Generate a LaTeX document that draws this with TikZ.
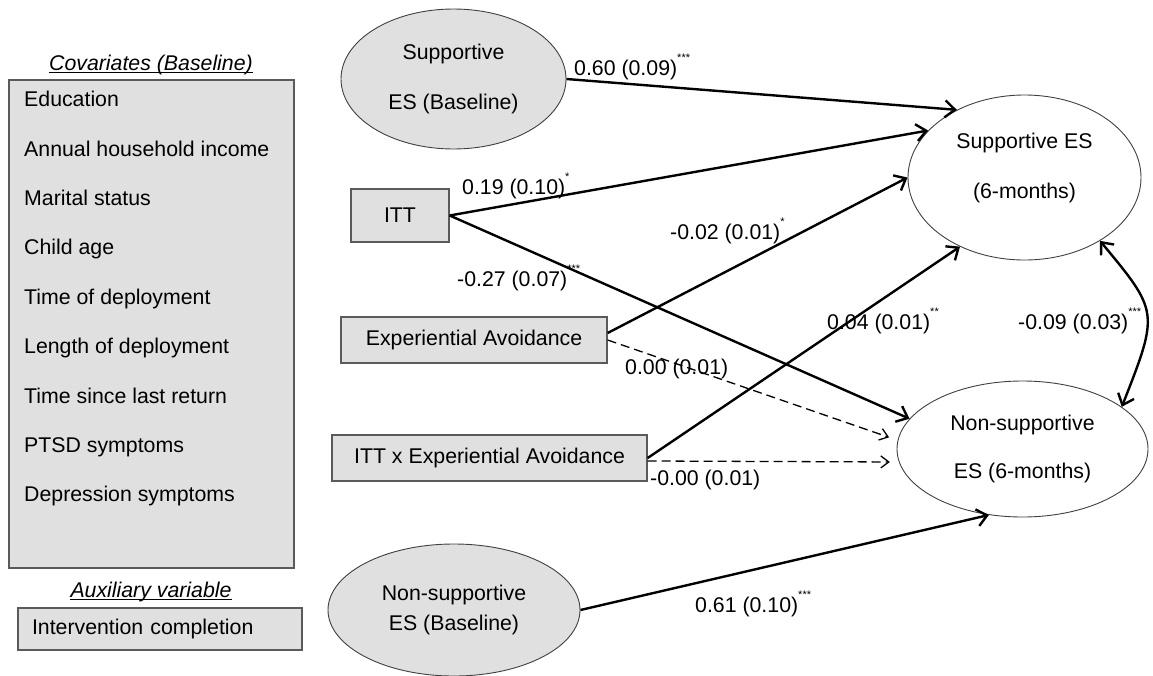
\documentclass[tikz,border=0pt]{standalone}
\usepackage{fontspec}
\setmainfont{Liberation Sans}
\usetikzlibrary{arrows.meta,shapes.geometric}
\newcommand\fs{\fontsize{21.3}{25.5}\selectfont}
\newcommand\sig[1]{\raisebox{14pt}{\fontsize{11}{11}\selectfont #1}}
\definecolor{boxfill}{HTML}{E0E0E0}
\definecolor{boxline}{HTML}{5A5A5A}
\definecolor{elline}{HTML}{404040}
\begin{document}
\begin{tikzpicture}[x=1pt,y=-1pt,font=\fs,
  gbox/.style={draw=boxline,line width=1.3pt,fill=boxfill,rectangle,inner sep=0pt},
  gell/.style={draw=elline,line width=0.9pt,ellipse,inner sep=0pt,align=center},
  item/.style={anchor=base west,inner sep=0pt},
  lab/.style={anchor=base west,inner sep=0pt},
  ttl/.style={anchor=base,inner sep=0pt,font=\fs\itshape},
  path/.style={line width=2.4pt,-{Straight Barb[length=10pt,width=17pt]}},
  dpath/.style={line width=1.3pt,dash pattern=on 9pt off 5pt,-{Straight Barb[length=8pt,width=12pt]},shorten >=9pt},
  dbl/.style={line width=2.4pt,{Straight Barb[length=10pt,width=17pt]}-{Straight Barb[length=10pt,width=17pt]}}
]
\useasboundingbox (0,0) rectangle (1153,675);

% covariates
\node[ttl] (covt) at (151,70) {Covariates (Baseline)};
\draw[line width=1.1pt] ([yshift=-2.5pt]covt.base west) -- ([yshift=-2.5pt]covt.base east);
\node[gbox,minimum width=285pt,minimum height=488pt] (cov) at (151.5,324) {};
\foreach \t [count=\i] in {Education,Annual household income,Marital status,Child age,Time of deployment,Length of deployment,Time since last return,PTSD symptoms,Depression symptoms}
  \node[item] (cov\i) at (24,{106.6+49.4*(\i-1)}) {\t};

\node[ttl] (auxt) at (151,597) {Auxiliary variable};
\draw[line width=1.1pt] ([yshift=-2.5pt]auxt.base west) -- ([yshift=-2.5pt]auxt.base east);
\node[gbox,text width=256pt,inner xsep=14pt,align=left,minimum height=42pt] (intv) at (160,629) {Intervention completion};

% predictors
\node[gell,fill=boxfill,minimum width=225pt,minimum height=140pt] (supb) at (453.5,79) {Supportive\\[24.5pt]ES (Baseline)};
\node[gbox,minimum width=98pt,minimum height=53pt] (itt) at (400,215.5) {ITT};
\node[gbox,minimum width=266pt,minimum height=46pt] (ea) at (474,340) {Experiential Avoidance};
\node[gbox,minimum width=315pt,minimum height=46pt] (ittea) at (489.5,458) {ITT x Experiential Avoidance};
\node[gell,fill=boxfill,minimum width=252pt,minimum height=132pt] (nsupb) at (454,610) {Non-supportive\\[4.5pt]ES (Baseline)};

% outcomes
\node[gell,fill=white,minimum width=233pt,minimum height=165pt] (sup6) at (1024.5,177.5) {Supportive ES\\[24.5pt](6-months)\rule[-24pt]{0pt}{24pt}};
\node[gell,fill=white,minimum width=251pt,minimum height=136pt] (nsup6) at (1022.5,449) {Non-supportive\\[22.5pt]ES (6-months)};

% paths
\draw[path] (supb.east) -- (sup6.135.9);
\draw[path] (itt.east) -- (sup6.154.3);
\draw[path] (itt.east) -- (nsup6.165.9);
\draw[path] ([yshift=7pt]ea.east) -- (sup6.180);
\draw[dpath] (ea.east) -- (nsup6.176);
\draw[path] (ittea.east) -- (sup6.227.5);
\draw[dpath] ([yshift=-3pt]ittea.east) -- (nsup6.186);
\draw[path] (nsupb.east) -- (nsup6.243);
\coordinate (bend) at (1159,312);
\draw[dbl] (sup6.320.9) .. controls (bend) .. (nsup6.23.3);

% labels
\node[lab] (l1) at (574,75.6) {0.60 (0.09)\sig{***}};
\node[lab] (l2) at (462,194.6) {0.19 (0.10)\sig{*}};
\node[lab] (l3) at (457,286.6) {-0.27 (0.07)\sig{***}};
\node[lab] (l4) at (670,239.6) {-0.02 (0.01)\sig{*}};
\node[lab] (l5) at (625,374.6) {0.00 (0.01)};
\node[lab] (l6) at (827,329.6) {0.04 (0.01)\sig{**}};
\node[lab] (l7) at (650,485.6) {-0.00 (0.01)};
\node[lab] (l8) at (695,612.6) {0.61 (0.10)\sig{***}};
\node[lab] (l9) at (1018,329.6) {-0.09 (0.03)\sig{***}};
\end{tikzpicture}
\end{document}
